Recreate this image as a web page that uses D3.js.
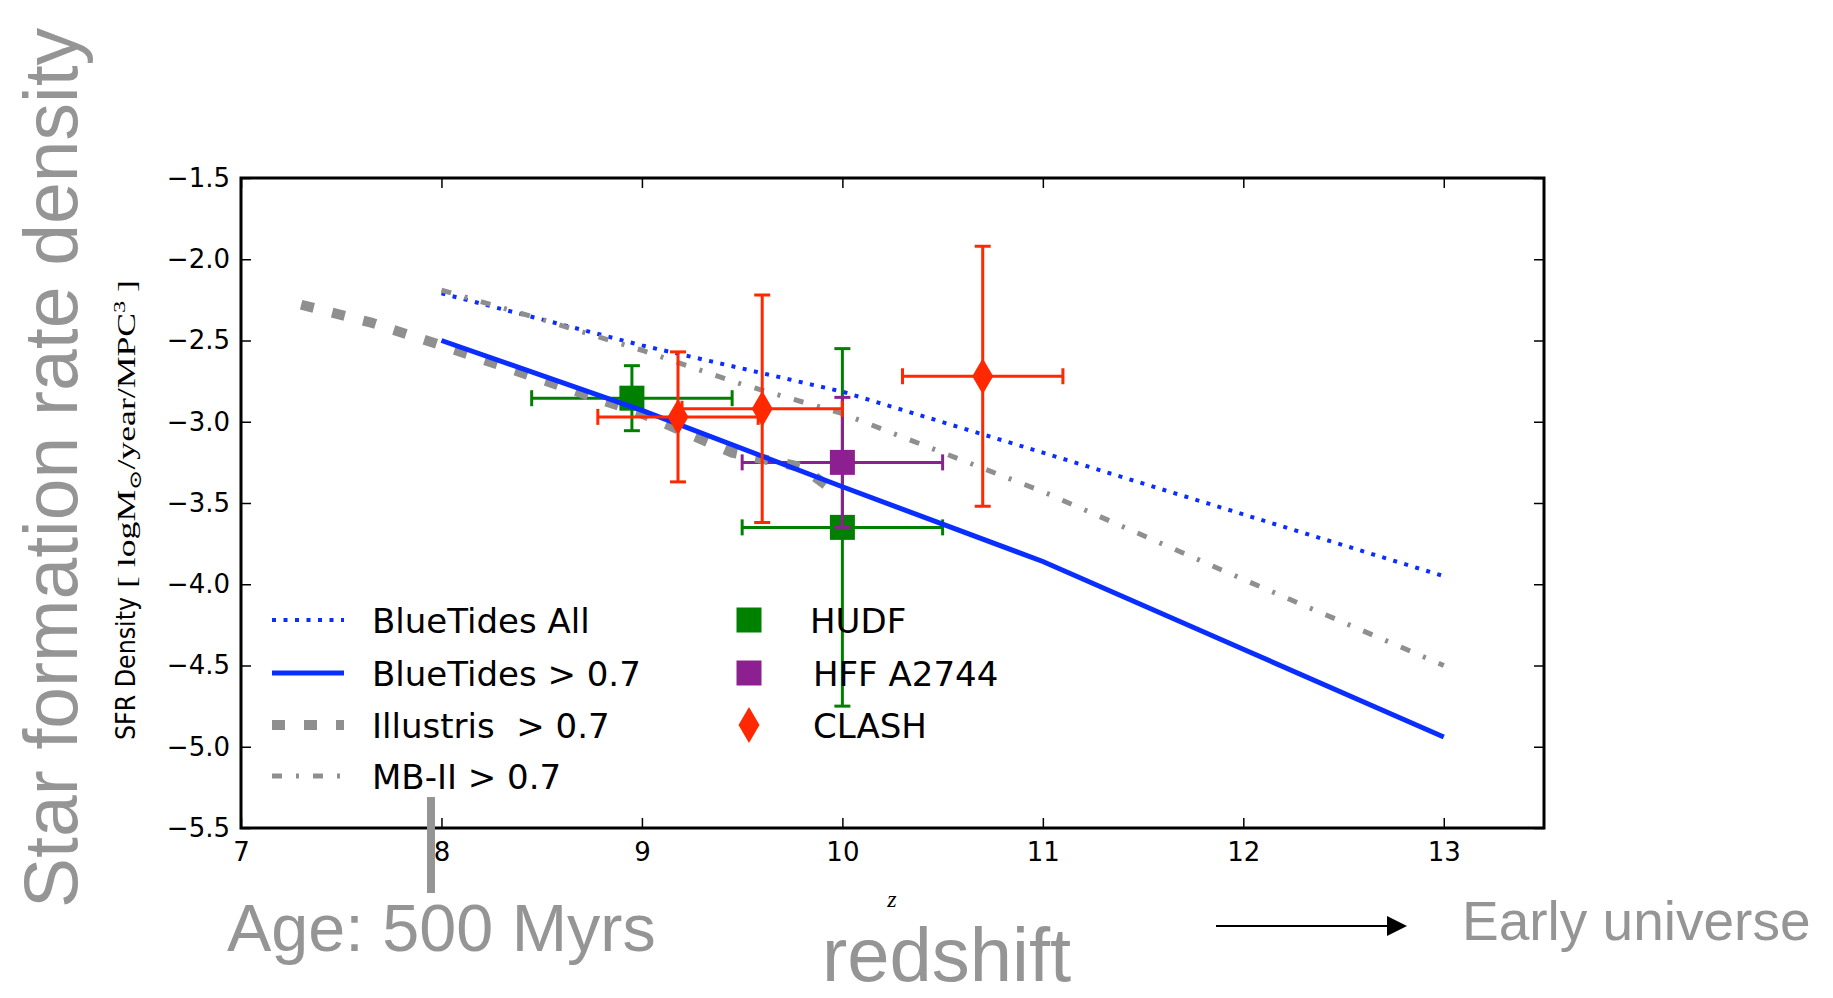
<!DOCTYPE html>
<html>
<head>
<meta charset="utf-8">
<script src="https://cdnjs.cloudflare.com/ajax/libs/d3/7.8.5/d3.min.js"></script>
<style>
  html, body { margin: 0; padding: 0; background: #fff; }
  svg { display: block; }
  .tick text { font-family: "DejaVu Sans", sans-serif; font-size: 26px; fill: #000; }
  .note { font-family: "Liberation Sans", Arial, sans-serif; fill: #959595; }
</style>
</head>
<body>
<div id="chart"></div>
<script>
// simulations: log SFR density vs redshift
const btAllZ = [8, 9, 10, 11, 12, 13];
const btAllSfr = [-2.21, -2.53, -2.815, -3.19, -3.57, -3.95];

const btCutZ = [8, 9, 10, 11, 12, 13];
const btCutSfr = [-2.50, -2.93, -3.40, -3.86, -4.40, -4.94];

const illZ = [7.3, 7.65, 8, 8.5, 9, 9.45, 9.8, 9.95];
const illSfr = [-2.28, -2.39, -2.53, -2.74, -2.95, -3.19, -3.28, -3.42];

const mbZ = [8, 8.5, 9, 9.5, 10, 10.5, 11, 12, 13];
const mbSfr = [-2.19, -2.37, -2.56, -2.77, -2.95, -3.19, -3.43, -3.97, -4.50];

// observations with errors
const hudfZ = [8.95, 10];
const hudfSfr = [-2.855, -3.65];
const hudfZErr = [0.5, 0.5];
const hudfSfrErr = [0.2, 1.1];

const hffZ = [10];
const hffSfr = [-3.25];
const hffZErr = [0.5];
const hffSfrErr = [0.4];

const clashZ = [9.18, 9.6, 10.7];
const clashSfr = [-2.97, -2.92, -2.72];
const clashZErr = [0.4, 0.4, 0.4];
const clashSfrErr = [0.4, 0.7, 0.8];

const xTicks = [7, 8, 9, 10, 11, 12, 13];
const yTicks = [-1.5, -2.0, -2.5, -3.0, -3.5, -4.0, -4.5, -5.0, -5.5];

const blue = "#0a2eff", gray = "#8f8f8f", green = "#008000", purple = "#8c2090", red = "#ff2800";

const width = 1833, height = 998;
const plot = { left: 241, right: 1544, top: 178, bottom: 828 };

const svg = d3.select("#chart").append("svg")
    .attr("width", width)
    .attr("height", height);

const x = d3.scaleLinear().domain([7, 13.5]).range([plot.left, plot.right]);
const y = d3.scaleLinear().domain([-5.5, -1.5]).range([plot.bottom, plot.top]);

// axes, ticks pointing inward on all four sides
const fmtY = d3.format(".1f");
svg.append("g").attr("transform", `translate(0,${plot.bottom})`)
    .call(d3.axisBottom(x).tickValues(xTicks).tickFormat(d3.format("d"))
        .tickSizeInner(-10).tickSizeOuter(0).tickPadding(15));
svg.append("g").attr("transform", `translate(${plot.left},0)`)
    .call(d3.axisLeft(y).tickValues(yTicks).tickFormat(fmtY)
        .tickSizeInner(-10).tickSizeOuter(0).tickPadding(11));
svg.append("g").attr("transform", `translate(0,${plot.top})`)
    .call(d3.axisTop(x).tickValues(xTicks).tickFormat("")
        .tickSizeInner(-10).tickSizeOuter(0));
svg.append("g").attr("transform", `translate(${plot.right},0)`)
    .call(d3.axisRight(y).tickValues(yTicks).tickFormat("")
        .tickSizeInner(-10).tickSizeOuter(0));
svg.selectAll(".domain").remove();
svg.selectAll(".tick line").attr("stroke", "#000").attr("stroke-width", 1.5);

const line = d3.line().x(d => x(d[0])).y(d => y(d[1]));
const zip = (a, b) => a.map((v, i) => [v, b[i]]);

// error bars with caps and a marker
function errorbars(zs, vals, zErr, vErr, color, marker) {
    const g = svg.append("g");
    zs.forEach((z, i) => {
        const cx = x(z), cy = y(vals[i]);
        const xl = x(z - zErr[i]), xr = x(z + zErr[i]);
        const yt = y(vals[i] + vErr[i]), yb = y(vals[i] - vErr[i]);
        const cap = 8;
        const segs = [
            [xl, cy, xr, cy], [cx, yt, cx, yb],
            [xl, cy - cap, xl, cy + cap], [xr, cy - cap, xr, cy + cap],
            [cx - cap, yt, cx + cap, yt], [cx - cap, yb, cx + cap, yb]
        ];
        g.selectAll(null).data(segs).enter().append("line")
            .attr("x1", d => d[0]).attr("y1", d => d[1])
            .attr("x2", d => d[2]).attr("y2", d => d[3])
            .attr("stroke", color).attr("stroke-width", 3);
        drawMarker(g, cx, cy, marker, color);
    });
}

function drawMarker(g, cx, cy, marker, color) {
    if (marker === "square") {
        g.append("rect").attr("x", cx - 12.5).attr("y", cy - 12.5)
            .attr("width", 25).attr("height", 25).attr("fill", color);
    } else {
        g.append("path").attr("d", `M${cx},${cy - 18}L${cx + 10.5},${cy}L${cx},${cy + 18}L${cx - 10.5},${cy}Z`)
            .attr("fill", color);
    }
}

errorbars(hudfZ, hudfSfr, hudfZErr, hudfSfrErr, green, "square");
errorbars(hffZ, hffSfr, hffZErr, hffSfrErr, purple, "square");

const styles = {
    btAll: { color: blue, w: 4, dash: "4,7.5" },
    btCut: { color: blue, w: 5, dash: null },
    ill: { color: gray, w: 10, dash: "13,19" },
    mb: { color: gray, w: 5, dash: "10,14,3,14" }
};

function curve(zs, vals, st) {
    svg.append("path").datum(zip(zs, vals))
        .attr("d", line).attr("fill", "none")
        .attr("stroke", st.color).attr("stroke-width", st.w)
        .attr("stroke-dasharray", st.dash);
}
curve(btAllZ, btAllSfr, styles.btAll);
curve(mbZ, mbSfr, styles.mb);
curve(illZ, illSfr, styles.ill);
curve(btCutZ, btCutSfr, styles.btCut);

errorbars(clashZ, clashSfr, clashZErr, clashSfrErr, red, "diamond");

// frame
svg.append("rect")
    .attr("x", plot.left).attr("y", plot.top)
    .attr("width", plot.right - plot.left).attr("height", plot.bottom - plot.top)
    .attr("fill", "none").attr("stroke", "#000").attr("stroke-width", 3);

// legend
const legendRows = [620, 673, 725, 776];
const lineLegend = [
    ["BlueTides All", styles.btAll],
    ["BlueTides > 0.7", styles.btCut],
    ["Illustris  > 0.7", styles.ill],
    ["MB-II > 0.7", styles.mb]
];
const markLegend = [
    ["HUDF", green, "square"],
    ["HFF A2744", purple, "square"],
    ["CLASH", red, "diamond"]
];
const leg = svg.append("g")
    .style("font-family", "'DejaVu Sans', sans-serif").style("font-size", "34px");
lineLegend.forEach((d, i) => {
    const yy = legendRows[i];
    leg.append("line").attr("x1", 272).attr("x2", 344).attr("y1", yy).attr("y2", yy)
        .attr("stroke", d[1].color).attr("stroke-width", d[1].w)
        .attr("stroke-dasharray", d[1].dash);
    leg.append("text").attr("x", 372).attr("y", yy + 13)
        .style("white-space", "pre").text(d[0]);
});
markLegend.forEach((d, i) => {
    const yy = legendRows[i];
    drawMarker(leg, 749, yy, d[2], d[1]);
    leg.append("text").attr("x", i === 0 ? 810 : 813).attr("y", yy + 13).text(d[0]);
});

// axis labels
svg.append("text")
    .attr("transform", "translate(135,740) rotate(-90)")
    .attr("textLength", 143).attr("lengthAdjust", "spacingAndGlyphs")
    .style("font-family", "'DejaVu Sans', sans-serif").style("font-size", "26px")
    .text("SFR Density");
const unit = svg.append("text")
    .attr("transform", "translate(135,588) rotate(-90)")
    .attr("textLength", 308).attr("lengthAdjust", "spacingAndGlyphs")
    .style("font-family", "'Liberation Serif', serif").style("font-size", "25px")
    .style("white-space", "pre");
unit.append("tspan").text("[ logM");
unit.append("tspan").attr("dy", 6).style("font-size", "17px")
    .style("font-family", "'DejaVu Serif', serif").text("\u2299");
unit.append("tspan").attr("dy", -6).text("/year/MPC");
unit.append("tspan").attr("dy", -10).style("font-size", "17px").text("3");
unit.append("tspan").attr("dy", 10).text(" ]");

svg.append("text").attr("x", 892).attr("y", 907).attr("text-anchor", "middle")
    .style("font-family", "'Liberation Serif', serif").style("font-style", "italic")
    .style("font-size", "24px").text("z");

// annotations around the figure
svg.append("text").attr("class", "note")
    .attr("transform", "translate(77,468) rotate(-90)")
    .attr("text-anchor", "middle")
    .attr("textLength", 880).attr("lengthAdjust", "spacingAndGlyphs")
    .style("font-size", "76px").text("Star formation rate density");

svg.append("line").attr("x1", 431).attr("x2", 431).attr("y1", 797).attr("y2", 893)
    .attr("stroke", "#959595").attr("stroke-width", 8);
svg.append("text").attr("class", "note").attr("x", 227).attr("y", 951)
    .style("font-size", "66.5px").text("Age: 500 Myrs");
svg.append("text").attr("class", "note").attr("x", 822).attr("y", 981)
    .style("font-size", "76px").text("redshift");

svg.append("line").attr("x1", 1216).attr("x2", 1390).attr("y1", 926).attr("y2", 926)
    .attr("stroke", "#000").attr("stroke-width", 2);
svg.append("path").attr("d", "M1387,916L1407,926L1387,936Z").attr("fill", "#000");
svg.append("text").attr("class", "note").attr("x", 1462).attr("y", 940)
    .style("font-size", "55px").text("Early universe");
</script>
</body>
</html>
